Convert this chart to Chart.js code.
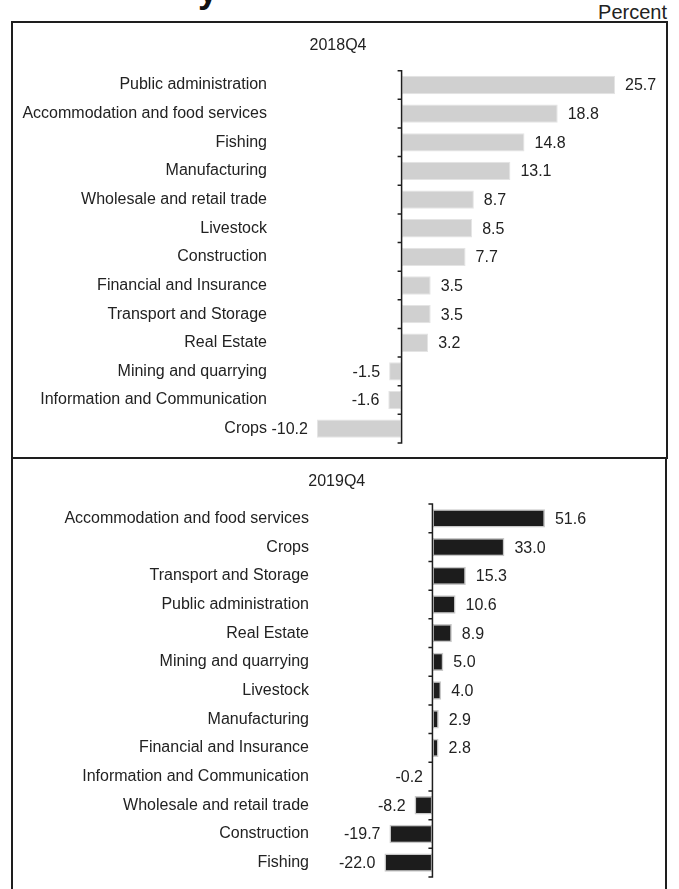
<!DOCTYPE html>
<html><head><meta charset="utf-8">
<script src="https://cdn.jsdelivr.net/npm/chart.js@4.4.1/dist/chart.umd.min.js"></script>
<style>
body{margin:0;background:#fff;width:679px;height:889px;overflow:hidden;position:relative;font-family:"Liberation Sans",Arial,Helvetica,sans-serif;}
.box{position:absolute;border:2px solid #1e1e1e;box-sizing:border-box;pointer-events:none;z-index:2;}
canvas{position:absolute;}
#unit{position:absolute;right:12px;top:2px;font-size:20px;color:#222;line-height:1;}
#head{position:absolute;left:198px;top:-28px;font-size:36px;font-weight:bold;line-height:1;color:#111;}
</style></head><body>
<div id="head">y</div>
<div id="unit">Percent</div>
<canvas id="c1" width="655" height="436" style="left:12px;top:22px"></canvas>
<canvas id="c2" width="655" height="431" style="left:11px;top:458px"></canvas>
<div class="box" style="left:11px;top:21px;width:657px;height:438px"></div>
<div class="box" style="left:11px;top:457px;width:656px;height:445px"></div>
<script>
const title2018 = "2018Q4";
const cats2018 = ["Public administration","Accommodation and food services","Fishing","Manufacturing","Wholesale and retail trade","Livestock","Construction","Financial and Insurance","Transport and Storage","Real Estate","Mining and quarrying","Information and Communication","Crops"];
const vals2018 = [25.7,18.8,14.8,13.1,8.7,8.5,7.7,3.5,3.5,3.2,-1.5,-1.6,-10.2];

const title2019 = "2019Q4";
const cats2019 = ["Accommodation and food services","Crops","Transport and Storage","Public administration","Real Estate","Mining and quarrying","Livestock","Manufacturing","Financial and Insurance","Information and Communication","Wholesale and retail trade","Construction","Fishing"];
const vals2019 = [51.6,33.0,15.3,10.6,8.9,5.0,4.0,2.9,2.8,-0.2,-8.2,-19.7,-22.0];

const FONT = '"Liberation Sans", Arial, Helvetica, sans-serif';
const TXT = '#222';
const FS = 16;

const decor = {
  id: 'decor',
  afterDatasetsDraw(chart) {
    const ctx = chart.ctx, xs = chart.scales.x, ca = chart.chartArea;
    const x0 = xs.getPixelForValue(0);
    ctx.save();
    ctx.strokeStyle = '#1e1e1e';
    ctx.lineWidth = 1.5;
    ctx.beginPath();
    ctx.moveTo(x0, ca.top); ctx.lineTo(x0, ca.bottom);
    const n = chart.data.labels.length;
    const band = (ca.bottom - ca.top) / n;
    for (let i = 0; i <= n; i++) {
      const y = ca.top + i * band;
      ctx.moveTo(x0 - 4, y); ctx.lineTo(x0 + 0.75, y);
    }
    ctx.stroke();
    const meta = chart.getDatasetMeta(0);
    const vals = chart.data.datasets[0].data;
    ctx.fillStyle = TXT;
    ctx.font = FS + 'px ' + FONT;
    ctx.textBaseline = 'middle';
    meta.data.forEach((el, i) => {
      const v = vals[i];
      const s = v.toFixed(1);
      if (v >= 0) { ctx.textAlign = 'left'; ctx.fillText(s, el.x + 10, el.y + 1); }
      else { ctx.textAlign = 'right'; ctx.fillText(s, el.x - 9, el.y + 1); }
    });
    ctx.restore();
  }
};

function makeChart(id, title, cats, vals, o) {
  return new Chart(document.getElementById(id), {
    type: 'bar',
    data: { labels: cats, datasets: [{ data: vals, backgroundColor: o.fill, borderColor: o.border, borderWidth: o.bw, borderSkipped: false, categoryPercentage: 1, barPercentage: o.bp }] },
    options: {
      indexAxis: 'y', responsive: false, animation: false,
      layout: { padding: { left: 0, right: o.padR, top: 0, bottom: o.padB } },
      plugins: {
        legend: { display: false }, tooltip: { enabled: false },
        title: { display: true, text: title, color: TXT, font: { family: FONT, size: FS, weight: 'normal', lineHeight: 1.2 }, padding: { top: o.tTop, bottom: o.tBot } }
      },
      scales: {
        x: { type: 'linear', display: false, min: o.min, max: o.max },
        y: {
          type: 'category', position: 'left', offset: true,
          grid: { display: false, drawTicks: false }, border: { display: false },
          ticks: { color: TXT, font: { family: FONT, size: FS }, padding: o.tickPad, autoSkip: false },
          afterFit(s) { s.width = o.axisW; s.paddingTop = 0; s.paddingBottom = 0; }
        }
      }
    },
    plugins: [decor]
  });
}

makeChart('c1', title2018, cats2018, vals2018, {
  fill: '#d0d0d0', border: '#e4e4e4', bw: 1, bp: 0.64,
  min: -14.8, max: 31.6, axisW: 266.7, tickPad: 11.7, padR: 3, padB: 15, tTop: 13.5, tBot: 16
});
makeChart('c2', title2019, cats2019, vals2019, {
  fill: '#1c1c1c', border: '#c8c8c8', bw: 1.5, bp: 0.64,
  min: -51.7, max: 105.5, axisW: 308.7, tickPad: 10.7, padR: 3.5, padB: 12, tTop: 14.2, tBot: 12.7
});
</script>
</body></html>
